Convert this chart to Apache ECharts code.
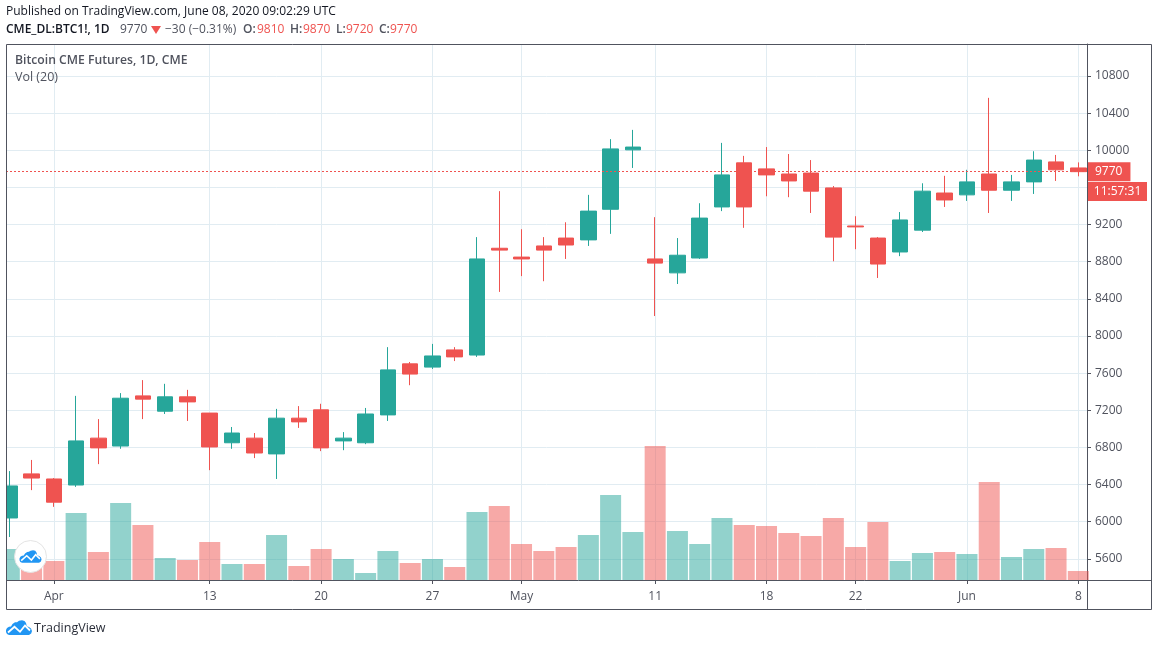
<!DOCTYPE html>
<html>
<head>
<meta charset="utf-8">
<style>html,body{margin:0;padding:0;background:#fff}#c{width:1158px;height:646px}</style>
<script src="https://cdn.jsdelivr.net/npm/echarts@6/dist/echarts.min.js"></script>
</head>
<body>
<div id="c"></div>
<script>
const categories = ['2020-03-30','03-31','04-01','04-02','04-03','04-06','04-07','04-08','04-09','04-13','04-14','04-15','04-16','04-17','04-20','04-21','04-22','04-23','04-24','04-27','04-28','04-29','04-30','05-01','05-04','05-05','05-06','05-07','05-08','05-11','05-12','05-13','05-14','05-15','05-18','05-19','05-20','05-21','05-22','05-26','05-27','05-28','05-29','06-01','06-02','06-03','06-04','06-05','06-08'];
const opens  = [6040,6515,6460,6395,6900,6815,7355,7190,7345,7170,6850,6900,6730,7115,7205,6870,6850,7150,7700,7665,7850,7795,8945,8850,8970,9055,9035,9365,10005,8830,8680,8840,9390,9865,9800,9745,9755,9595,9185,9055,8905,9140,9540,9520,9745,9570,9660,9875,9810];
const closes = [6385,6470,6210,6870,6795,7330,7320,7345,7290,6805,6955,6740,7115,7075,6795,6900,7160,7635,7590,7785,7775,8830,8925,8830,8925,8980,9345,10015,10035,8785,8870,9270,9735,9390,9735,9670,9560,9065,9175,8775,9250,9560,9465,9660,9570,9660,9895,9790,9770];
const lows   = [5835,6340,6160,6375,6620,6785,7105,7160,7085,6555,6785,6685,6460,7010,6760,6770,6835,7085,7470,7645,7730,7775,8475,8645,8590,8830,8970,9100,9810,8215,8560,8830,9345,9165,9505,9495,9325,8805,8935,8625,8860,9120,9390,9455,9325,9455,9530,9670,9720];
const highs  = [6545,6665,6470,7355,7105,7385,7525,7485,7420,7170,7020,6955,7215,7245,7270,6965,7225,7880,7720,7915,7880,9065,9560,9150,9065,9225,9520,10120,10220,9280,9055,9430,10080,9940,10035,9960,9895,9615,9290,9065,9335,9645,9725,9790,10565,9735,9990,9950,9870];
const volumes = [31,22,19,67,28,77,55,22,20,38,16,16,45,14,31,21,7,29,17,21,13,68,74,36,29,33,45,85,48,134,49,36,62,55,54,47,44,62,33,58,19,27,28,26,98,23,31,32,9];
const priceTicks = [5600,6000,6400,6800,7200,7600,8000,8400,8800,9200,9600,10000,10400,10800];
const dateTickIndex = [2,9,14,19,23,29,34,38,43,48];
const dateTickLabels = ['Apr','13','20','27','May','11','18','22','Jun','8'];
const lastClose = 9770;

const UP = '#26a69a', DOWN = '#ef5350', INK = '#50535e', GRID = '#e1ecf2';
const FONT = '"Open Sans","Noto Sans",sans-serif';

const candleData = categories.map((_, i) => [i, opens[i], closes[i], lows[i], highs[i]]);
const volumeData = categories.map((_, i) => ({
  value: [i, volumes[i]],
  itemStyle: { color: closes[i] >= opens[i] ? 'rgba(38,166,154,0.5)' : 'rgba(239,83,80,0.5)' }
}));

const CLOUD = [[3,15],[1,14],[0,12],[0,10],[1,8],[3,6.8],[5,6.5],[6.5,4],[9,2.3],[11,2.2],[13,0.8],[16,0.2],[18.5,1],[20,3],[20.8,6.3],[23,7],[25,8.5],[26,11],[25.2,13.5],[23,15]];
const ZIG = [[2,12.5],[8.5,6.8],[14,11.8],[19,5.5],[24,10.5]];
function logo(x, y, s, z) {
  const map = p => [x + p[0] * s, y + p[1] * s];
  return [
    { type: 'polygon', z, shape: { points: CLOUD.map(map) }, style: { fill: '#2196f3' } },
    { type: 'polyline', z: z + 1, shape: { points: ZIG.map(map) }, style: { fill: 'none', stroke: '#fff', lineWidth: 1.6 * s + 0.2 } }
  ];
}
function txt(x, y, text, fill, weight, size) {
  return { type: 'text', z: 30, x, y, style: { text, fill, font: (weight || 'normal') + ' ' + (size || 12) + 'px ' + FONT, textVerticalAlign: 'middle' } };
}

const graphics = [
  { type: 'rect', z: 15, shape: { x: 0, y: 44, width: 6, height: 537 }, style: { fill: '#fff' } },
  { type: 'rect', z: 20, shape: { x: 6.5, y: 44.5, width: 1145, height: 565 }, style: { fill: 'none', stroke: INK, lineWidth: 1 } },
  { type: 'line', z: 20, shape: { x1: 6, y1: 580.5, x2: 1151, y2: 580.5 }, style: { stroke: INK, lineWidth: 1 } },
  { type: 'line', z: 20, shape: { x1: 1087.5, y1: 580, x2: 1087.5, y2: 609 }, style: { stroke: INK, lineWidth: 1 } },
  txt(6, 12, 'Published on TradingView.com, June 08, 2020 09:02:29 UTC', '#131722'),
  txt(6, 29.5, 'CME_DL:BTC1!, 1D', '#131722', '600'),
  txt(120, 29.5, '9770', '#50535e'),
  { type: 'polygon', z: 30, shape: { points: [[151, 26], [161, 26], [156, 34]] }, style: { fill: DOWN } },
  txt(165, 29.5, '\u221230 (\u22120.31%)', '#50535e'),
  txt(243, 29.5, 'O:', '#50535e', '600'), txt(257, 29.5, '9810', DOWN),
  txt(290, 29.5, 'H:', '#50535e', '600'), txt(303, 29.5, '9870', DOWN),
  txt(336, 29.5, 'L:', '#50535e', '600'), txt(346, 29.5, '9720', DOWN),
  txt(379, 29.5, 'C:', '#50535e', '600'), txt(390, 29.5, '9770', DOWN),
  txt(15, 61, 'Bitcoin CME Futures, 1D, CME', INK, '600', 12.2),
  txt(15, 77.5, 'Vol (20)', INK, 'normal', 12.5),
  { type: 'rect', z: 25, shape: { x: 1088, y: 182, width: 59, height: 19 }, style: { fill: DOWN } },
  { type: 'text', z: 30, x: 1117.5, y: 192, style: { text: '11:57:31', fill: '#fff', font: '12px ' + FONT, textAlign: 'center', textVerticalAlign: 'middle' } },
  { type: 'circle', z: 25, shape: { cx: 30.5, cy: 556.5, r: 16 }, style: { fill: '#fff', stroke: '#e4e4e4', lineWidth: 1 } },
  ...logo(19.5, 550, 0.85, 26),
  ...logo(6, 620, 1, 26),
  { type: 'text', z: 30, x: 34, y: 628, style: { text: 'TradingView', fill: '#2a2e39', font: '12.5px ' + FONT, textVerticalAlign: 'middle' } }
];

const chart = echarts.init(document.getElementById('c'), null, { renderer: 'canvas' });
chart.setOption({
  animation: false,
  backgroundColor: '#fff',
  grid: { left: 6, top: 44, width: 1081, height: 536, containLabel: false },
  xAxis: {
    type: 'value', min: -0.148, max: 48.39,
    axisLine: { show: false },
    axisTick: { show: true, length: 4, customValues: dateTickIndex, lineStyle: { color: INK } },
    axisLabel: {
      show: true, customValues: dateTickIndex, margin: 11, color: INK, fontSize: 12, fontFamily: FONT,
      formatter: v => dateTickLabels[dateTickIndex.indexOf(v)] || ''
    },
    splitLine: { show: true, lineStyle: { color: GRID, width: 1 } }
  },
  yAxis: [
    {
      type: 'value', position: 'right', min: 5372, max: 11145, scale: true,
      axisLine: { show: true, onZero: false, lineStyle: { color: INK } },
      axisTick: { show: true, length: 4, customValues: priceTicks, lineStyle: { color: INK } },
      axisLabel: { show: true, customValues: priceTicks, margin: 8, padding: [2, 0, 0, 0], color: INK, fontSize: 12, fontFamily: FONT, formatter: v => String(v) },
      splitLine: { show: true, lineStyle: { color: GRID, width: 1 } }
    },
    { type: 'value', min: 0, max: 536, show: false, splitLine: { show: false } }
  ],
  graphic: { elements: graphics },
  series: [
    {
      type: 'bar', xAxisIndex: 0, yAxisIndex: 1, data: volumeData, barWidth: 21, z: 2, clip: true,
      itemStyle: { borderWidth: 0 }
    },
    {
      type: 'candlestick', xAxisIndex: 0, yAxisIndex: 0, data: candleData, barWidth: 16, z: 3, clip: true,
      encode: { x: 0, y: [1, 2, 3, 4] },
      itemStyle: { color: UP, color0: DOWN, borderColor: UP, borderColor0: DOWN, borderWidth: 1 },
      markLine: {
        symbol: 'none', silent: true, animation: false,
        lineStyle: { color: DOWN, type: [2, 2], width: 1 },
        label: {
          show: true, position: 'end', distance: 1, formatter: '{c}', color: '#fff', fontSize: 12, fontFamily: FONT,
          backgroundColor: DOWN, padding: [4, 8, 2, 7], lineHeight: 13
        },
        data: [{ yAxis: lastClose }]
      }
    }
  ]
});
</script>
</body>
</html>
